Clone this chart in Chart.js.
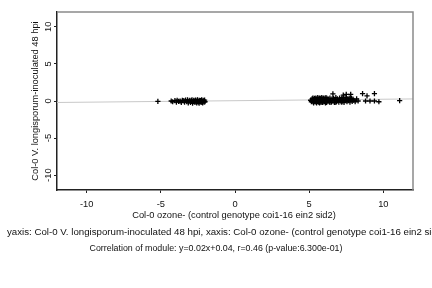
<!DOCTYPE html>
<html>
<head>
<meta charset="utf-8">
<script src="https://cdn.jsdelivr.net/npm/chart.js@4"></script>
<style>
  html, body { margin: 0; padding: 0; background: #fff; }
  #wrap { width: 432px; height: 288px; position: relative; }
</style>
</head>
<body>
<div id="wrap"><canvas id="scatter"></canvas></div>
<script>
// genes with negative ozone response
var leftX = [-5.2, -4.3, -4.2, -4.05, -3.95, -3.9, -3.8, -3.7, -3.62, -3.55,
  -3.45, -3.4, -3.33, -3.25, -3.2, -3.15, -3.1, -3.05, -3.0, -2.95,
  -2.9, -2.86, -2.82, -2.78, -2.74, -2.7, -2.66, -2.62, -2.58, -2.55,
  -2.52, -2.48, -2.45, -2.42, -2.38, -2.35, -2.32, -2.28, -2.25, -2.22,
  -2.18, -2.15, -2.12, -2.08, -2.05, -2.02];
var leftY = [-0.05, 0.0, -0.1, 0.05, -0.15, 0.1, -0.05, 0.0, -0.2, 0.1,
  0.05, -0.15, 0.12, -0.1, 0.15, -0.25, 0.0, 0.1, -0.2, 0.05,
  0.15, -0.3, -0.1, 0.1, 0.0, -0.2, 0.12, -0.05, -0.25, 0.08,
  0.15, -0.15, 0.0, -0.3, 0.1, -0.1, 0.05, -0.2, 0.15, -0.05,
  -0.25, 0.1, 0.0, -0.15, 0.12, -0.1];

// genes with positive ozone response
var rightX = [5.1, 5.15, 5.2, 5.22, 5.25, 5.28, 5.3, 5.33, 5.35, 5.38,
  5.4, 5.42, 5.45, 5.48, 5.5, 5.52, 5.55, 5.58, 5.6, 5.62,
  5.65, 5.68, 5.7, 5.72, 5.75, 5.78, 5.8, 5.83, 5.85, 5.88,
  5.9, 5.92, 5.95, 5.98, 6.0, 6.03, 6.05, 6.08, 6.1, 6.13,
  6.15, 6.18, 6.2, 6.25, 6.3, 6.35, 6.4, 6.45, 6.5, 6.55,
  6.6, 6.65, 6.7, 6.75, 6.8, 6.85, 6.9, 6.95, 7.0, 7.05,
  7.1, 7.15, 7.2, 7.25, 7.3, 7.35, 7.4, 7.45, 7.5, 7.55,
  7.6, 7.65, 7.7, 7.75, 7.8, 7.85, 7.9, 7.95, 8.0, 8.1,
  8.2, 8.3, 5.3, 5.5, 5.7, 5.9, 6.1, 6.4, 6.8, 7.2];
var rightY = [0.1, -0.1, 0.3, 0.0, 0.4, -0.15, 0.2, 0.05, 0.35, -0.1,
  0.25, 0.0, 0.4, -0.2, 0.15, 0.3, -0.05, 0.45, 0.1, -0.15,
  0.3, 0.05, 0.4, -0.1, 0.2, 0.35, -0.2, 0.1, 0.45, 0.0,
  0.25, -0.15, 0.35, 0.05, 0.4, -0.1, 0.2, 0.3, -0.05, 0.45,
  0.15, -0.2, 0.35, 0.05, 0.25, -0.1, 0.4, 0.1, -0.15, 0.3,
  0.0, 0.35, -0.2, 0.2, 0.45, -0.05, 0.3, 0.1, -0.15, 0.4,
  0.2, -0.1, 0.35, 0.0, 0.5, -0.2, 0.25, 0.1, 0.45, -0.1,
  0.3, 0.05, 0.4, -0.15, 0.2, 0.35, -0.05, 0.25, 0.1, -0.1,
  0.3, 0.0, -0.25, -0.25, -0.25, -0.2, -0.25, -0.2, -0.2, -0.15];

var outlierX = [6.6, 7.3, 7.5, 7.8, 8.6, 8.9, 8.8, 9.1, 9.4, 9.4, 9.7, 11.1];
var outlierY = [0.95, 0.8, 0.9, 0.9, 1.0, 0.7, 0.0, 0.0, 0.0, 1.0, -0.1, 0.05];

// fit line y=0.02x+0.04 drawn across the axis range
var fitX = [-12, 12];
var fitY = [-0.2, 0.28];

var tickValues = [-10, -5, 0, 5, 10];
var xTitle = 'Col-0 ozone- (control genotype coi1-16 ein2 sid2)';
var yTitle = 'Col-0 V. longisporum-inoculated 48 hpi';
var caption1 = 'yaxis: Col-0 V. longisporum-inoculated 48 hpi, xaxis: Col-0 ozone- (control genotype coi1-16 ein2 sid2)';
var caption2 = 'Correlation of module: y=0.02x+0.04, r=0.46 (p-value:6.300e-01)';

function pairs(xs, ys) {
  var out = [];
  for (var i = 0; i < xs.length; i++) out.push({ x: xs[i], y: ys[i] });
  return out;
}

var FONT = '"Liberation Sans", Arial, sans-serif';
var FSIZE = 9.3;

var extras = {
  id: 'extras',
  afterDraw: function (chart) {
    var ctx = chart.ctx;
    var a = chart.chartArea;
    var ys = chart.scales.y;
    ctx.save();
    // frame
    ctx.strokeStyle = '#8a8a8a';
    ctx.lineWidth = 1.5;
    ctx.beginPath();
    ctx.moveTo(a.left, a.top);
    ctx.lineTo(a.right, a.top);
    ctx.lineTo(a.right, a.bottom);
    ctx.stroke();

    ctx.fillStyle = '#111';
    ctx.font = FSIZE + 'px ' + FONT;
    ctx.textAlign = 'center';
    ctx.textBaseline = 'middle';
    // rotated y tick labels
    tickValues.forEach(function (v) {
      ctx.save();
      ctx.translate(48, ys.getPixelForValue(v));
      ctx.rotate(-Math.PI / 2);
      ctx.fillText(String(v), 0, 0);
      ctx.restore();
    });
    // y title
    ctx.save();
    ctx.translate(35, (a.top + a.bottom) / 2);
    ctx.rotate(-Math.PI / 2);
    ctx.fillText(yTitle, 0, 0);
    ctx.restore();
    // x title and captions
    ctx.fillText(xTitle, 234, 215);
    ctx.textAlign = 'left';
    ctx.font = '9.7px ' + FONT;
    ctx.fillText(caption1, 7, 232);
    ctx.textAlign = 'center';
    ctx.font = '8.85px ' + FONT;
    ctx.fillText(caption2, 216, 249);
    ctx.restore();
  }
};

new Chart(document.getElementById('scatter'), {
  type: 'scatter',
  data: {
    datasets: [{
      label: 'genes',
      data: pairs(leftX, leftY).concat(pairs(rightX, rightY), pairs(outlierX, outlierY)),
      pointStyle: 'cross',
      pointRadius: 2.6,
      pointBorderWidth: 1.3,
      borderColor: '#000',
      backgroundColor: '#000'
    }, {
      type: 'line',
      label: 'fit',
      data: pairs(fitX, fitY),
      borderColor: '#c8c8c8',
      borderWidth: 1,
      pointRadius: 0,
      fill: false
    }]
  },
  options: {
    responsive: true,
    maintainAspectRatio: false,
    animation: false,
    layout: { padding: { top: 12, right: 19, left: 0, bottom: 0 } },
    plugins: {
      legend: { display: false },
      tooltip: { enabled: false }
    },
    scales: {
      x: {
        type: 'linear',
        min: -12,
        max: 12,
        afterBuildTicks: function (s) { s.ticks = tickValues.map(function (v) { return { value: v }; }); },
        afterFit: function (s) { s.height = 98; },
        border: { display: true, color: '#222', width: 1.5 },
        grid: { drawOnChartArea: false, drawTicks: true, tickLength: 3, color: '#222' },
        ticks: { color: '#111', font: { family: FONT, size: FSIZE }, padding: 6, maxRotation: 0 }
      },
      y: {
        type: 'linear',
        min: -12,
        max: 12,
        afterBuildTicks: function (s) { s.ticks = tickValues.map(function (v) { return { value: v }; }); },
        afterFit: function (s) { s.width = 57; },
        border: { display: true, color: '#222', width: 1.5 },
        grid: { drawOnChartArea: false, drawTicks: true, tickLength: 3, color: '#222' },
        ticks: { display: false }
      }
    }
  },
  plugins: [extras]
});
</script>
</body>
</html>
